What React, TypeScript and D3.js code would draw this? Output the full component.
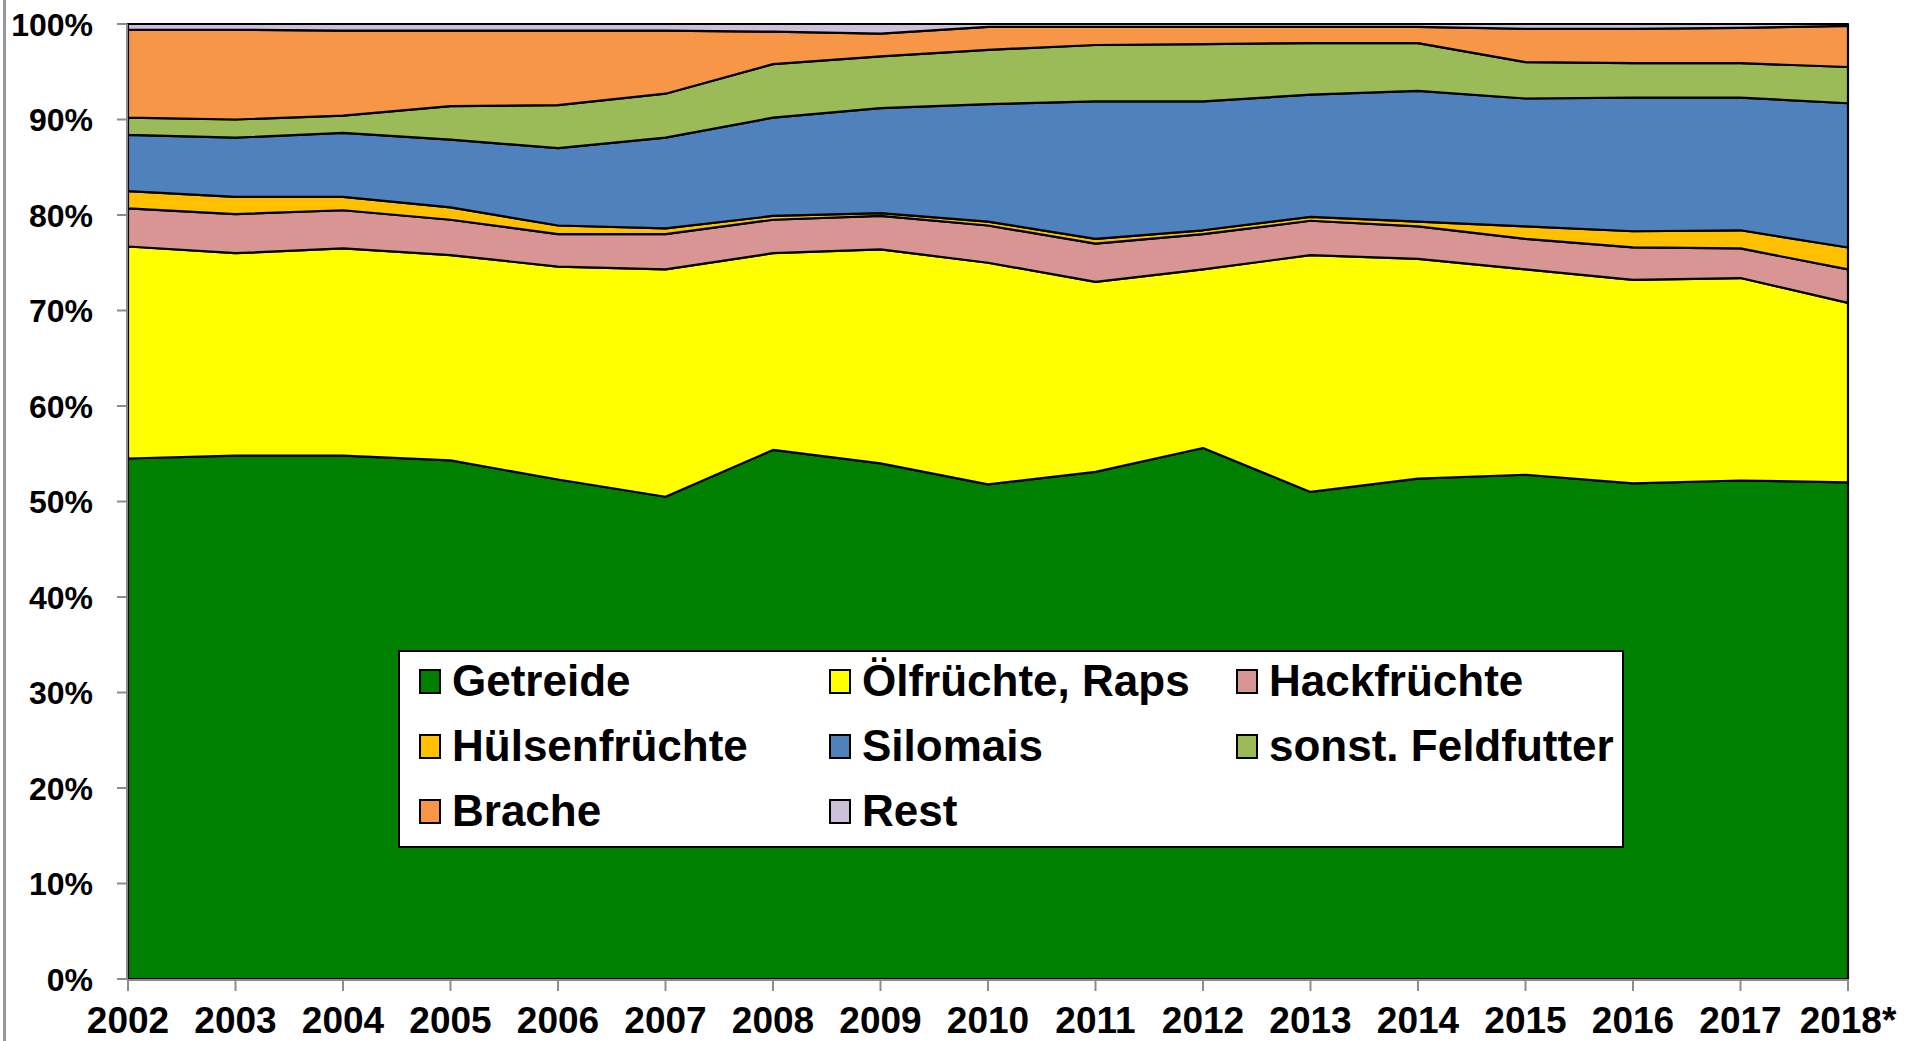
import React from "react";
import * as d3 from "d3";

const years = ["2002", "2003", "2004", "2005", "2006", "2007", "2008", "2009", "2010", "2011", "2012", "2013", "2014", "2015", "2016", "2017", "2018*"];

// Anteile in % der Ackerfläche
const getreide = [54.5, 54.8, 54.8, 54.3, 52.3, 50.5, 55.4, 54.0, 51.8, 53.1, 55.6, 51.0, 52.4, 52.8, 51.9, 52.2, 52.0];
const oelfruechte = [22.2, 21.2, 21.7, 21.5, 22.3, 23.8, 20.6, 22.4, 23.2, 19.9, 18.7, 24.8, 23.0, 21.5, 21.3, 21.2, 18.8];
const hackfruechte = [4.0, 4.1, 4.0, 3.7, 3.4, 3.7, 3.5, 3.5, 3.9, 4.0, 3.7, 3.6, 3.4, 3.2, 3.4, 3.1, 3.5];
const huelsenfruechte = [1.8, 1.8, 1.4, 1.3, 0.9, 0.6, 0.4, 0.3, 0.4, 0.5, 0.4, 0.4, 0.5, 1.3, 1.7, 1.9, 2.3];
const silomais = [5.9, 6.2, 6.7, 7.1, 8.1, 9.5, 10.3, 11.0, 12.3, 14.4, 13.5, 12.8, 13.7, 13.4, 14.0, 13.9, 15.1];
const feldfutter = [1.8, 1.9, 1.8, 3.5, 4.5, 4.6, 5.6, 5.4, 5.7, 5.9, 6.0, 5.4, 5.0, 3.8, 3.6, 3.6, 3.8];
const brache = [9.2, 9.4, 8.9, 7.9, 7.8, 6.6, 3.4, 2.4, 2.4, 1.9, 1.8, 1.7, 1.7, 3.5, 3.6, 3.7, 4.3];
const rest = [0.6, 0.6, 0.7, 0.7, 0.7, 0.7, 0.8, 1.0, 0.3, 0.3, 0.3, 0.3, 0.3, 0.5, 0.5, 0.4, 0.2];

const seriesNames = ["Getreide", "Ölfrüchte, Raps", "Hackfrüchte", "Hülsenfrüchte", "Silomais", "sonst. Feldfutter", "Brache", "Rest"];
const seriesValues = [getreide, oelfruechte, hackfruechte, huelsenfruechte, silomais, feldfutter, brache, rest];
const seriesColors = ["#008000", "#FFFF00", "#D99594", "#FFC000", "#4F81BD", "#9BBB59", "#F79646", "#CCC1DA"];

const W = 1905;
const H = 1041;
const font = "'Liberation Sans', Arial, sans-serif";

export default function App() {
  const rows = years.map((year, i) => {
    const row: any = { year };
    seriesNames.forEach((name, s) => (row[name] = seriesValues[s][i]));
    return row;
  });

  const stacked = d3.stack<any>().keys(seriesNames).offset(d3.stackOffsetExpand)(rows);

  const x = d3.scalePoint().domain(years).range([128, 1848]);
  const y = d3.scaleLinear().domain([0, 1]).range([979, 24]);

  const area = d3
    .area<any>()
    .x((d) => x(d.data.year) as number)
    .y0((d) => y(d[0]))
    .y1((d) => y(d[1]));

  const yTicks = y.ticks(10);
  const pct = d3.format(".0%");

  // legend: 3 columns, 3 rows
  const legendCols = [420, 830, 1237];
  const legendRows = [680, 745, 810];

  return (
    <div style={{ position: "fixed", left: 0, top: 0 }}>
      <svg width={W} height={H} style={{ display: "block", background: "#fff" }}>
        {/* frame line on the left */}
        <line x1={4.5} x2={4.5} y1={0} y2={H} stroke="#9a9a9a" strokeWidth={3} />

        {stacked.map((s, i) => (
          <path
            key={s.key}
            d={area(s) || ""}
            fill={seriesColors[i]}
            stroke="#000"
            strokeWidth={2.2}
            strokeLinejoin="round"
          />
        ))}

        {/* y axis */}
        <line x1={127} x2={127} y1={y(1)} y2={y(0)} stroke="#8c8c8c" strokeWidth={2} />
        {yTicks.map((t) => (
          <g key={t}>
            <line x1={117} x2={127} y1={y(t)} y2={y(t)} stroke="#8c8c8c" strokeWidth={2} />
            <text
              x={93}
              y={y(t)}
              dy="0.36em"
              textAnchor="end"
              fontFamily={font}
              fontWeight="bold"
              fontSize={32}
              fill="#000"
            >
              {pct(t)}
            </text>
          </g>
        ))}

        {/* x axis */}
        <line x1={127} x2={1849} y1={y(0) + 1} y2={y(0) + 1} stroke="#8c8c8c" strokeWidth={2} />
        {years.map((yr) => (
          <g key={yr}>
            <line
              x1={x(yr) as number}
              x2={x(yr) as number}
              y1={y(0)}
              y2={y(0) + 12}
              stroke="#8c8c8c"
              strokeWidth={2}
            />
            <text
              x={x(yr) as number}
              y={1033}
              textAnchor="middle"
              fontFamily={font}
              fontWeight="bold"
              fontSize={37}
              fill="#000"
            >
              {yr}
            </text>
          </g>
        ))}

        {/* legend */}
        <rect x={399} y={651} width={1224} height={196} fill="#fff" stroke="#000" strokeWidth={2} />
        {seriesNames.map((name, i) => {
          const cx = legendCols[i % 3];
          const cy = legendRows[Math.floor(i / 3)];
          return (
            <g key={name}>
              <rect x={cx} y={cy - 10} width={20} height={23} fill={seriesColors[i]} stroke="#000" strokeWidth={2} />
              <text
                x={cx + 32}
                y={cy}
                dy="0.36em"
                fontFamily={font}
                fontWeight="bold"
                fontSize={44}
                fill="#000"
              >
                {name}
              </text>
            </g>
          );
        })}
      </svg>
    </div>
  );
}
